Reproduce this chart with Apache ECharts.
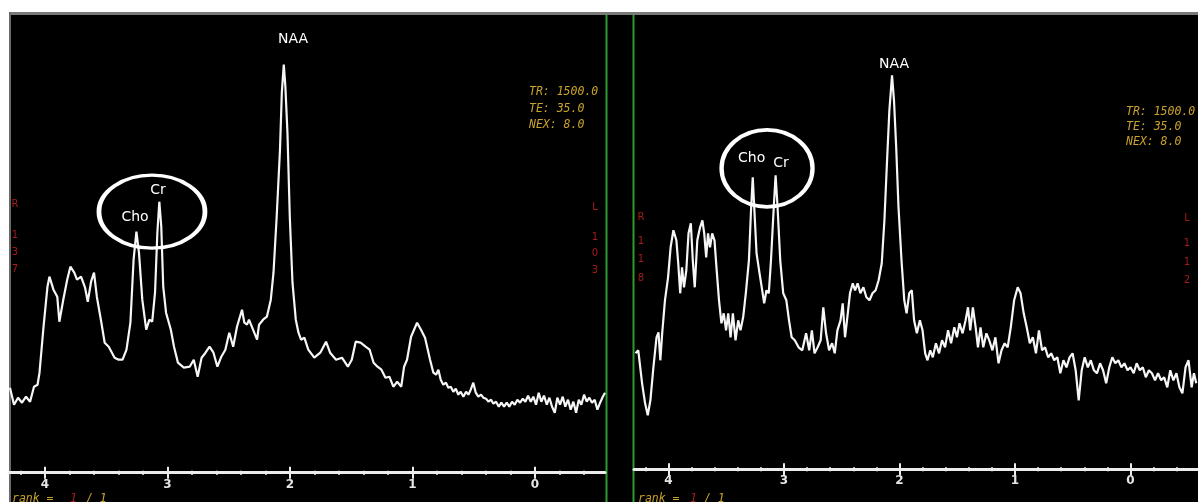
<!DOCTYPE html>
<html><head><meta charset="utf-8">
<script src="https://cdn.jsdelivr.net/npm/echarts@6/dist/echarts.min.js"></script>
<style>html,body{margin:0;padding:0;background:#000}#c{width:1198px;height:502px}</style>
</head><body><div id="c"></div><script>
// ---- data (chemical shift in ppm, amplitude in arbitrary units) ----
const ppmTicks = [4, 3, 2, 1, 0];
const minorTicks = [4.2, 3.8, 3.6, 3.4, 3.2, 2.8, 2.6, 2.4, 2.2, 1.8, 1.6, 1.4, 1.2, 0.8, 0.6, 0.4, 0.2, -0.2, -0.4];

const leftPpm = [4.286,4.253,4.220,4.188,4.155,4.122,4.090,4.061,4.045,4.012,
3.980,3.964,3.931,3.900,3.883,3.851,3.819,3.793,3.761,3.739,
3.706,3.673,3.651,3.624,3.600,3.577,3.544,3.513,3.480,3.432,
3.399,3.367,3.335,3.303,3.277,3.254,3.233,3.206,3.174,3.148,
3.125,3.102,3.083,3.067,3.051,3.035,3.012,2.973,2.947,2.915,
2.867,2.819,2.786,2.754,2.722,2.690,2.657,2.625,2.593,2.561,
2.528,2.496,2.464,2.433,2.392,2.373,2.351,2.335,2.302,2.269,
2.253,2.220,2.189,2.157,2.135,2.109,2.082,2.067,2.051,2.038,
2.021,2.002,1.980,1.953,1.931,1.910,1.883,1.851,1.802,1.753,
1.706,1.673,1.624,1.576,1.528,1.496,1.464,1.424,1.383,1.350,
1.318,1.286,1.254,1.221,1.189,1.157,1.125,1.092,1.069,1.045,
1.012,0.963,0.931,0.898,
0.857,0.830,0.808,0.789,0.770,0.749,0.727,0.708,0.688,0.667,
0.647,0.626,0.607,0.585,0.563,0.544,0.525,0.504,0.484,0.463,
0.441,0.422,0.400,0.381,0.359,0.340,0.318,0.296,0.275,0.253,
0.231,0.210,0.188,0.166,0.144,0.122,0.100,0.079,0.057,0.035,
0.014,-0.008,-0.030,-0.051,-0.073,-0.096,-0.117,-0.139,-0.161,-0.182,
-0.204,-0.226,-0.247,-0.269,-0.291,-0.313,-0.335,-0.357,-0.378,-0.400,
-0.422,-0.443,-0.465,-0.487,-0.509,-0.531,-0.553,-0.571];
const leftAmp = [85,68,75,70,76,71,86,88,100,146,
186,196,183,176,151,173,193,206,200,193,
196,185,171,191,200,176,153,130,126,115,
113,113,123,150,213,241,220,173,143,153,
151,180,240,271,246,186,160,143,126,110,
105,106,113,96,115,120,126,120,106,116,
123,140,126,146,163,150,148,153,143,133,
148,153,156,173,200,256,323,380,408,386,
340,256,190,153,140,133,135,123,115,120,
131,120,113,115,106,113,131,130,126,123,
110,106,103,95,96,86,91,86,106,113,
136,150,143,135,
113,100,98,103,93,88,90,85,86,81,
84,78,81,76,81,78,83,90,80,76,
78,75,74,71,73,69,71,66,70,66,
70,66,71,68,73,70,74,71,77,71,
76,68,80,71,77,68,75,66,60,75,
68,76,66,73,63,71,60,73,68,78,
71,75,70,73,63,70,76,80];

const rightPpm = [4.286,4.262,4.229,4.203,4.180,4.157,4.131,4.104,4.087,4.071,
4.055,4.031,4.004,3.982,3.958,3.932,3.916,3.899,3.883,3.866,
3.846,3.827,3.807,3.790,3.773,3.751,3.727,3.707,3.691,3.674,
3.658,3.641,3.622,3.602,3.585,3.563,3.542,3.522,3.502,3.483,
3.463,3.443,3.420,3.397,3.377,3.354,3.331,3.304,3.287,3.271,
3.258,3.238,3.212,3.189,3.172,3.152,3.132,3.113,3.089,3.073,
3.056,3.033,3.007,2.980,2.957,2.934,2.907,2.874,2.842,2.809,
2.782,2.759,2.736,2.709,2.683,2.660,2.636,2.610,2.584,2.561,
2.538,2.511,2.492,2.472,2.452,2.429,2.405,2.385,2.363,2.339,
2.313,2.287,2.260,2.234,2.207,2.181,2.154,2.131,2.108,2.088,
2.065,2.048,2.029,2.009,1.983,1.959,1.939,1.916,1.894,1.874,
1.850,1.824,1.801,1.778,1.758,1.734,1.712,1.685,1.658,1.632,
1.606,1.580,1.554,1.526,1.503,1.481,1.454,1.428,1.407,1.388,
1.365,1.341,1.321,1.299,1.275,1.248,1.223,1.196,1.170,1.143,
1.117,1.090,1.064,1.037,1.008,0.977,0.952,0.925,0.899,0.872,
0.846,0.819,0.793,0.766,0.740,0.713,0.687,0.661,0.634,0.608,
0.581,0.555,0.528,0.502,0.475,0.449,0.423,0.397,0.370,0.344,
0.317,0.291,0.264,0.238,0.211,0.184,0.158,0.132,0.106,0.079,
0.053,0.026,0.000,-0.027,-0.053,-0.080,-0.106,-0.132,-0.159,-0.185,
-0.212,-0.238,-0.265,-0.291,-0.318,-0.344,-0.371,-0.397,-0.423,-0.449,
-0.476,-0.502,-0.529,-0.549,-0.569];
const rightAmp = [116,119,86,66,54,69,102,132,137,109,
136,169,192,222,239,229,206,176,202,182,
199,236,246,209,182,229,242,249,236,212,
236,222,236,229,202,169,146,156,139,156,
132,156,129,149,139,152,176,209,256,292,
262,216,196,179,166,179,176,209,262,294,
262,209,176,169,149,132,129,122,119,136,
119,139,116,122,129,162,136,119,126,116,
139,149,166,132,152,176,186,179,186,176,
182,172,169,176,179,189,206,249,309,359,
394,369,322,262,209,169,156,176,179,149,
136,149,139,116,109,119,112,126,116,129,
122,139,126,142,132,146,136,149,162,139,
162,142,122,142,122,136,129,119,132,106,
119,126,122,142,169,182,176,156,142,126,
132,116,139,119,122,112,116,109,112,96,
109,102,112,116,99,69,99,112,102,109,
99,96,106,99,86,102,112,106,109,102,
106,99,102,96,106,99,102,92,99,96,
89,96,89,92,82,99,89,96,82,76,
102,109,82,96,86];

const peakNames = ['NAA', 'Cho', 'Cr'];
const scanParams = ['TR: 1500.0', 'TE: 35.0', 'NEX: 8.0'];
const leftSide = ['R', '1', '3', '7'];
const leftSideR = ['L', '1', '0', '3'];
const rightSide = ['R', '1', '1', '8'];
const rightSideR = ['L', '1', '1', '2'];

// ---- build ----
function pairs(a, b) { return a.map((v, i) => [v, b[i]]); }
const ELLIPSE = 'path://M0,50 C0,22.4 22.4,0 50,0 C77.6,0 100,22.4 100,50 C100,77.6 77.6,100 50,100 C22.4,100 0,77.6 0,50 Z';
const WHITE = '#ececec';
const YELLOW = '#c9a22e';
const RED = '#a51c1c';

function axesFor(g, min, max) {
  const base = { gridIndex: g, type: 'value', min: min, max: max, inverse: true, position: 'bottom',
    splitLine: { show: false } };
  function tickAxis(vals, len, inside) {
    return Object.assign({}, base, {
      axisLine: { show: false, onZero: false },
      axisTick: { show: true, customValues: vals, length: len, inside: inside, lineStyle: { color: WHITE, width: 2 } },
      axisLabel: { show: false }
    });
  }
  return [
    Object.assign({}, base, {
      axisLine: { show: true, onZero: false, lineStyle: { color: WHITE, width: 3 } },
      axisTick: { show: false },
      axisLabel: { customValues: ppmTicks, color: '#e6e6e6', fontSize: 12, fontWeight: 'bold',
        fontFamily: 'DejaVu Sans', margin: 6 }
    }),
    tickAxis(ppmTicks, 6, true),
    tickAxis(ppmTicks, 6, false),
    tickAxis(minorTicks, 2, true),
    tickAxis(minorTicks, 2, false)
  ];
}

function labelSeries(xi, yi, items) {
  return {
    type: 'scatter', xAxisIndex: xi, yAxisIndex: yi, symbolSize: 1, z: 5,
    itemStyle: { color: 'rgba(0,0,0,0)', opacity: 1 },
    label: { show: true, position: 'inside', formatter: '{b}', color: '#ffffff',
      fontSize: 14, fontFamily: 'DejaVu Sans' },
    data: items
  };
}
function ellipseSeries(xi, yi, center, size) {
  return {
    type: 'scatter', xAxisIndex: xi, yAxisIndex: yi, symbol: ELLIPSE, symbolSize: size, z: 4,
    itemStyle: { color: 'rgba(0,0,0,0)', borderColor: '#ffffff', borderWidth: 4, opacity: 1 },
    data: [center]
  };
}

const gfx = [
  { type: 'rect', shape: { x: 0, y: 0, width: 1198, height: 12 }, style: { fill: '#fff' } },
  { type: 'rect', shape: { x: 0, y: 0, width: 9, height: 502 }, style: { fill: '#fff' } },
  { type: 'rect', shape: { x: 9, y: 12, width: 1189, height: 3 }, style: { fill: '#7a7a7a' } },
  { type: 'rect', shape: { x: 9, y: 12, width: 2, height: 490 }, style: { fill: '#6a6a6a' } },
  { type: 'line', shape: { x1: 606.5, y1: 15, x2: 606.5, y2: 502 }, style: { stroke: '#2f9a2f', lineWidth: 2 } },
  { type: 'line', shape: { x1: 633.5, y1: 15, x2: 633.5, y2: 502 }, style: { stroke: '#2f9a2f', lineWidth: 2 } }
];
function txt(t, x, y, fill, font, align) {
  gfx.push({ type: 'text', z: 10, style: { text: t, x: x, y: y, fill: fill, font: font,
    textAlign: align || 'left', align: align || 'left', textVerticalAlign: 'middle', verticalAlign: 'middle' } });
}
const monoFont = 'italic 11.5px "DejaVu Sans Mono"';
[92, 109, 125].forEach((y, i) => txt(scanParams[i], 529, y, YELLOW, monoFont));
[112, 127, 142].forEach((y, i) => txt(scanParams[i], 1126, y, YELLOW, monoFont));
const redFont = '10px "DejaVu Sans"';
[204, 235, 252, 269].forEach((y, i) => txt(leftSide[i], 15, y, RED, redFont, 'center'));
[207, 237, 253, 270].forEach((y, i) => txt(leftSideR[i], 595, y, RED, redFont, 'center'));
[217, 241, 259, 278].forEach((y, i) => txt(rightSide[i], 641, y, RED, redFont, 'center'));
[218, 243, 262, 280].forEach((y, i) => txt(rightSideR[i], 1187, y, RED, redFont, 'center'));
txt('rank =', 12, 499, YELLOW, monoFont);
txt('1', 70, 499, RED, monoFont);
txt('/ 1', 86, 499, YELLOW, monoFont);
txt('rank =', 638, 499, YELLOW, monoFont);
txt('1', 690, 499, RED, monoFont);
txt('/ 1', 704, 499, YELLOW, monoFont);

const chart = echarts.init(document.getElementById('c'));
chart.setOption({
  backgroundColor: '#000',
  animation: false,
  grid: [
    { left: 9, top: 16, width: 596, height: 456.7 },
    { left: 634, top: 16, width: 564, height: 453.3 }
  ],
  xAxis: axesFor(0, -0.571, 4.294).concat(axesFor(1, -0.584, 4.299)),
  yAxis: [
    { gridIndex: 0, type: 'value', min: 0, max: 456.7, show: false },
    { gridIndex: 1, type: 'value', min: 0, max: 453.3, show: false }
  ],
  series: [
    { type: 'line', xAxisIndex: 0, yAxisIndex: 0, data: pairs(leftPpm, leftAmp), symbol: 'none',
      lineStyle: { color: '#f6f6f6', width: 2.2 }, z: 3 },
    { type: 'line', xAxisIndex: 5, yAxisIndex: 1, data: pairs(rightPpm, rightAmp), symbol: 'none',
      lineStyle: { color: '#f6f6f6', width: 2.2 }, z: 3 },
    labelSeries(0, 0, [
      { name: peakNames[0], value: [1.976, 433] },
      { name: peakNames[1], value: [3.265, 255] },
      { name: peakNames[2], value: [3.078, 282] }
    ]),
    labelSeries(5, 1, [
      { name: peakNames[0], value: [2.048, 405] },
      { name: peakNames[1], value: [3.280, 311] },
      { name: peakNames[2], value: [3.026, 306] }
    ]),
    ellipseSeries(0, 0, [3.127, 261], [106, 73]),
    ellipseSeries(5, 1, [3.147, 301], [91, 77])
  ],
  graphic: gfx
});
</script></body></html>
